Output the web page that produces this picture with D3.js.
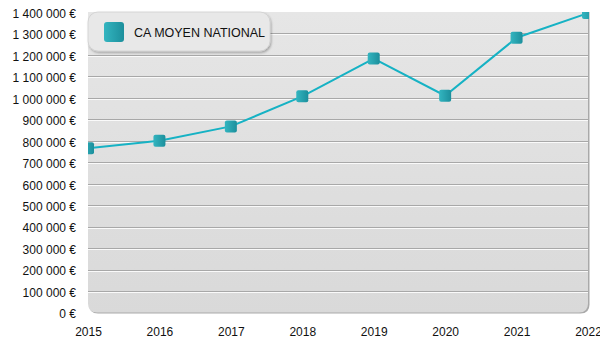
<!DOCTYPE html>
<html><head><meta charset="utf-8">
<script src="https://cdn.jsdelivr.net/npm/d3@7"></script>
<style>body{margin:0;background:#fff}svg{display:block}text{font-family:"Liberation Sans",Arial,sans-serif;fill:#111}</style>
</head><body><svg id="c" width="600" height="350"></svg>
<script>
const years = ["2015","2016","2017","2018","2019","2020","2021","2022"];
const values = [765000, 800000, 867000, 1007000, 1183000, 1010000, 1280000, 1395000];
const seriesName = "CA MOYEN NATIONAL";
const yTicks = [0,100000,200000,300000,400000,500000,600000,700000,800000,900000,1000000,1100000,1200000,1300000,1400000];

const svg = d3.select("#c");
const L = 88, R = 588, T = 12, B = 312.5;
const x = d3.scalePoint().domain(years).range([L, R]);
const y = d3.scaleLinear().domain([0, 1400000]).range([B, T]);
const loc = d3.formatLocale({decimal: ",", thousands: "\u00a0", grouping: [3], currency: ["", "\u00a0€"]});
const fmt = v => loc.format(",")(v).replace(/\u00a0/g, " ") + " €";

const defs = svg.append("defs");
const bg = defs.append("linearGradient").attr("id","bg").attr("x1",0).attr("y1",0).attr("x2",0).attr("y2",1);
bg.append("stop").attr("offset","0%").attr("stop-color","#e6e6e6");
bg.append("stop").attr("offset","100%").attr("stop-color","#d9d9d9");
const mg = defs.append("linearGradient").attr("id","mg").attr("x1",0).attr("y1",0).attr("x2",1).attr("y2",0);
mg.append("stop").attr("offset","0%").attr("stop-color","#33b5c0");
mg.append("stop").attr("offset","100%").attr("stop-color","#1c8f9c");
defs.append("clipPath").attr("id","clip").append("rect").attr("x",L).attr("y",T).attr("width",R-L+1).attr("height",B-T);
const sh = defs.append("filter").attr("id","sh").attr("x","-10%").attr("y","-10%").attr("width","130%").attr("height","150%");
sh.append("feDropShadow").attr("dx",1).attr("dy",1.5).attr("stdDeviation",1.2).attr("flood-color","#000").attr("flood-opacity",0.3);

const r = 9;
function plotPath(x0,y0,x1,y1){
  return `M${x0},${y0} H${x1} V${y1-r} Q${x1},${y1} ${x1-r},${y1} H${x0+r} Q${x0},${y1} ${x0},${y1-r} Z`;
}
svg.append("path").attr("d", plotPath(L+1, T, R+1.5, B+1)).attr("fill","#a9a9a9");
svg.append("path").attr("d", plotPath(L, T, R, B)).attr("fill","url(#bg)");

// gridlines
const gl = yTicks.filter(v => v > 0 && v < 1400000);
svg.append("g").selectAll("line.g1").data(gl).join("line")
  .attr("x1",L).attr("x2",R).attr("y1",d=>Math.round(y(d))+0.5).attr("y2",d=>Math.round(y(d))+0.5)
  .attr("stroke","#a8a8a8").attr("stroke-width",1);
svg.append("g").selectAll("line.g2").data(gl).join("line")
  .attr("x1",L).attr("x2",R).attr("y1",d=>Math.round(y(d))+1.5).attr("y2",d=>Math.round(y(d))+1.5)
  .attr("stroke","#fafafa").attr("stroke-width",1);

// axes
const yAxis = d3.axisLeft(y).tickValues(yTicks).tickFormat(fmt).tickSize(0).tickPadding(0);
const ya = svg.append("g").attr("transform",`translate(76,1.5)`).call(yAxis);
ya.select(".domain").remove();
ya.selectAll("text").attr("font-size",12).style("font-family","'Liberation Sans',Arial,sans-serif").attr("fill","#111");
const xAxis = d3.axisBottom(x).tickSize(0).tickPadding(0);
const xa = svg.append("g").attr("transform",`translate(0,${B+15})`).call(xAxis);
xa.select(".domain").remove();
xa.selectAll("text").attr("font-size",12).style("font-family","'Liberation Sans',Arial,sans-serif").attr("fill","#111");

// line
const g = svg.append("g").attr("clip-path","url(#clip)");
const pts = years.map((yr,i)=>({yr, v: values[i]}));
g.append("path").datum(pts).attr("fill","none").attr("stroke","#16b2c4").attr("stroke-width",2)
  .attr("d", d3.line().x(d=>x(d.yr)).y(d=>y(d.v)));
g.selectAll("rect.m").data(pts).join("rect")
  .attr("x",d=>x(d.yr)-6).attr("y",d=>y(d.v)-6).attr("width",12).attr("height",12).attr("rx",2)
  .attr("fill","url(#mg)");

// legend
const lg = svg.append("g");
lg.append("rect").attr("x",88).attr("y",12).attr("width",182).attr("height",39).attr("rx",10)
  .attr("fill","#e8e8e8").attr("stroke","#d0d0d0").attr("stroke-width",0.8).attr("filter","url(#sh)");
lg.append("rect").attr("x",104).attr("y",22).attr("width",20).attr("height",20).attr("rx",3).attr("fill","url(#mg)");
lg.append("text").attr("x",134).attr("y",37).attr("font-size",12.5).text(seriesName);
</script></body></html>
